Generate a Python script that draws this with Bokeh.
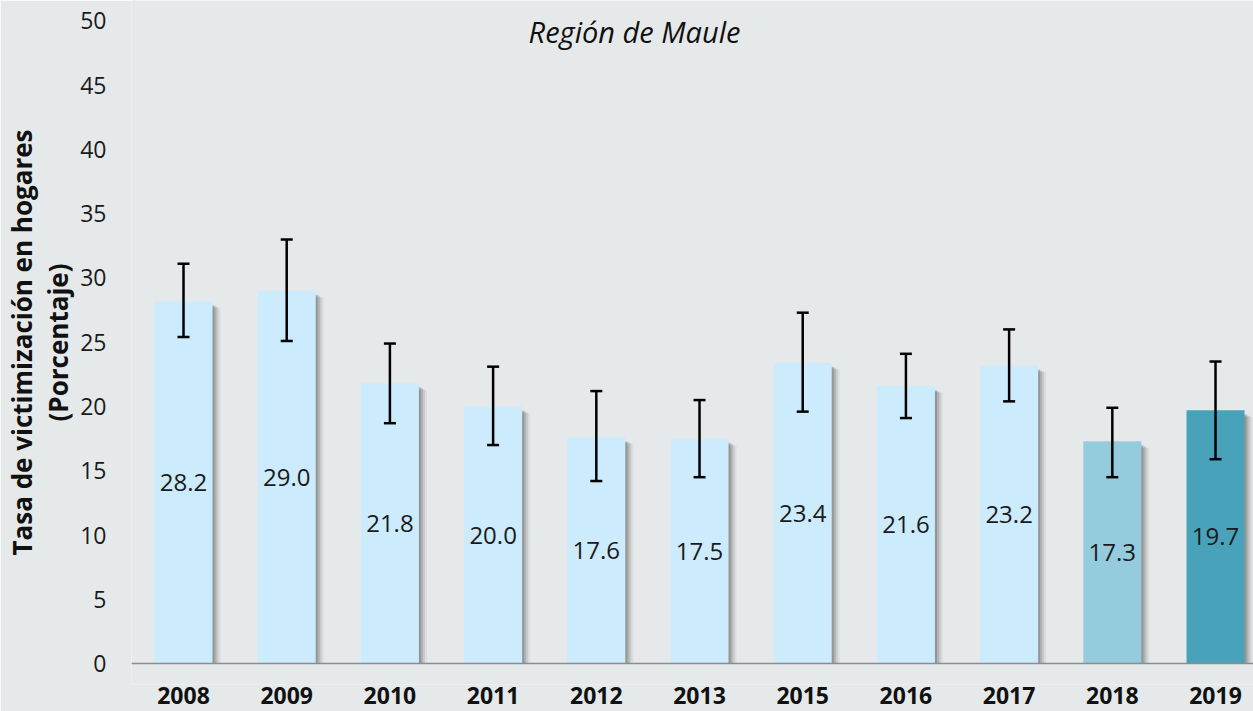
from bokeh.plotting import figure
from bokeh.models import ColumnDataSource, Range1d, FixedTicker, Span, Whisker, TeeHead, Label
from bokeh.core.properties import value
from bokeh.embed import file_html
from bokeh.resources import INLINE

# ---------------- data ----------------
years = ["2008", "2009", "2010", "2011", "2012", "2013", "2015", "2016", "2017", "2018", "2019"]
rates = [28.2, 29.0, 21.8, 20.0, 17.6, 17.5, 23.4, 21.6, 23.2, 17.3, 19.7]
ci_upper = [31.1, 33.0, 24.9, 23.1, 21.2, 20.5, 27.3, 24.1, 26.0, 19.9, 23.5]
ci_lower = [25.4, 25.1, 18.7, 17.0, 14.2, 14.5, 19.6, 19.1, 20.4, 14.5, 15.9]
bar_colors = ["#CCEBFC"] * 9 + ["#94CCDD", "#48A2BA"]
y_ticks = [0, 5, 10, 15, 20, 25, 30, 35, 40, 45, 50]
title_text = "Región de Maule"
y_title = "Tasa de victimización en hogares\n(Porcentaje)"

# ---------------- styling constants ----------------
BG = "#E6E9EA"
BAR_W = 0.562
PX_X = 103.2   # pixels per category
PX_Y = 12.85   # pixels per y unit
FONT = "Open Sans"

idx = list(range(len(years)))
src = ColumnDataSource(dict(
    x=idx, top=rates, color=bar_colors, upper=ci_upper, lower=ci_lower,
    label_y=[r / 2 for r in rates], label=["%.1f" % r for r in rates],
))

p = figure(
    width=1253, height=711,
    x_range=Range1d(-0.504, 10.368), y_range=Range1d(-1.634, 51.595),
    toolbar_location=None, output_backend="svg",
    min_border_left=131, min_border_right=0, min_border_top=0, min_border_bottom=27,
)
p.background_fill_color = BG
p.border_fill_color = BG
p.outline_line_color = None
p.xgrid.visible = False
p.ygrid.visible = False

# shadows (soft, offset to the lower right)
for dx, dy, a in [(2, 4, 0.26), (4, 5, 0.2), (6, 6, 0.13), (8, 7, 0.07)]:
    p.vbar(x=[i + dx / PX_X for i in idx], top=[r - dy / PX_Y for r in rates], bottom=0,
           width=BAR_W, fill_color="#4d4d4d", fill_alpha=a, line_color=None)

# bars
p.vbar(x="x", top="top", bottom=0, width=BAR_W, fill_color="color", line_color=None, source=src)

# baseline
p.add_layout(Span(location=0, dimension="width", line_color="#8c8c8c", line_width=1.6))

# error bars
w = Whisker(base="x", upper="upper", lower="lower", source=src,
            line_color="black", line_width=2.5, level="overlay",
            upper_head=TeeHead(size=12, line_width=2.5, line_color="black"),
            lower_head=TeeHead(size=12, line_width=2.5, line_color="black"))
p.add_layout(w)

# value labels (centered in bars)
p.text(x="x", y="label_y", text="label", source=src,
       text_font=value(FONT), text_font_size="24px", text_color="#1a1a1a",
       text_align="center", text_baseline="middle")

# title
p.add_layout(Label(x=4.37, y=49.2, text=title_text, text_font=FONT, text_font_size="29px",
                   text_font_style="italic", text_color="#111111",
                   text_align="center", text_baseline="middle"))

# x axis (category labels)
xa = p.xaxis[0]
xa.ticker = FixedTicker(ticks=idx)
xa.major_label_overrides = {i: y for i, y in zip(idx, years)}
xa.axis_line_color = None
xa.major_tick_line_color = None
xa.minor_tick_line_color = None
xa.major_tick_out = 0
xa.major_tick_in = 0
xa.major_label_standoff = 2
xa.major_label_text_line_height = 0.8
xa.major_label_text_font = FONT
xa.major_label_text_font_size = "23px"
xa.major_label_text_font_style = "bold"
xa.major_label_text_color = "#111111"

# y axis
ya = p.yaxis[0]
ya.ticker = FixedTicker(ticks=y_ticks)
ya.axis_line_color = None
ya.major_tick_line_color = None
ya.minor_tick_line_color = None
ya.major_tick_out = 0
ya.major_tick_in = 0
ya.major_label_standoff = 25
ya.major_label_text_font = FONT
ya.major_label_text_font_size = "23px"
ya.major_label_text_color = "#1a1a1a"
ya.axis_label = y_title
ya.axis_label_text_font = FONT
ya.axis_label_text_font_size = "26px"
ya.axis_label_text_font_style = "bold"
ya.axis_label_text_color = "#111111"
ya.axis_label_standoff = 1
ya.axis_label_text_line_height = 1.0

open("out.html", "w").write(file_html(p, INLINE))
